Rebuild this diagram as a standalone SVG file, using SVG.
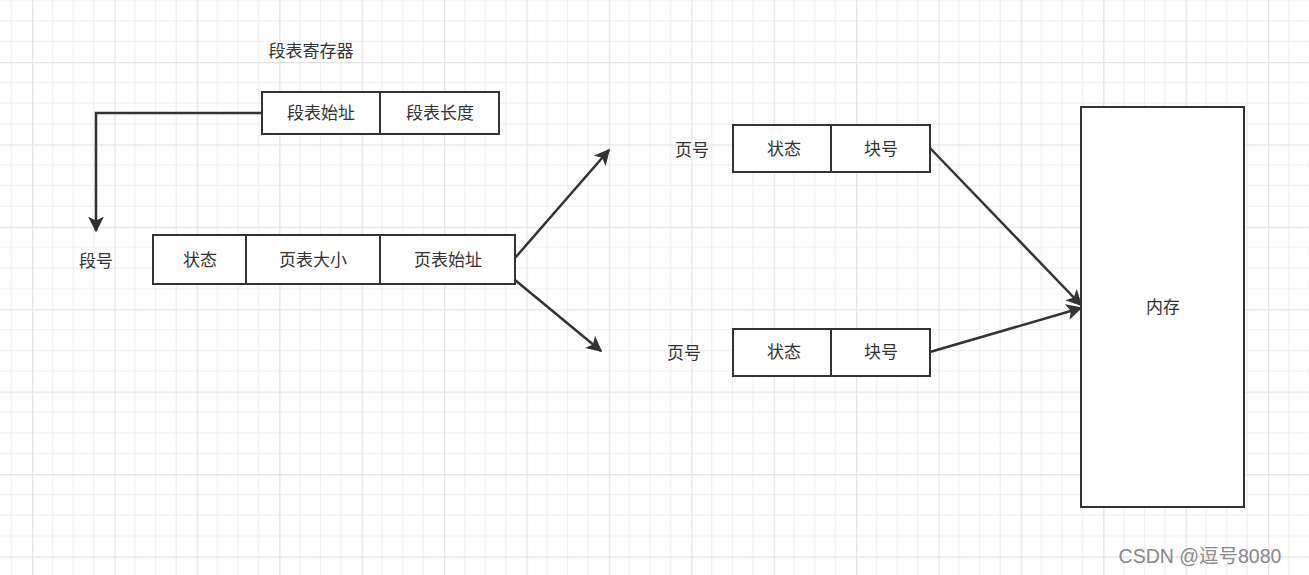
<svg xmlns="http://www.w3.org/2000/svg" width="1309" height="575" viewBox="0 0 1309 575">
<defs>
<pattern id="g" x="32" y="62" width="82.4" height="82.4" patternUnits="userSpaceOnUse">
<path d="M20.6 0V82.4M41.2 0V82.4M61.8 0V82.4M0 20.6H82.4M0 41.2H82.4M0 61.8H82.4" stroke="#efefef" stroke-width="1.2" fill="none"/>
<path d="M0.6 0V82.4M0 0.6H82.4" stroke="#e4e4e4" stroke-width="1.4" fill="none"/>
</pattern>
<marker id="b" viewBox="0 0 10 10" refX="9" refY="5" markerWidth="16" markerHeight="16" orient="auto" markerUnits="userSpaceOnUse">
<path d="M0 0L10 5L0 10L2.5 5Z" fill="#333"/>
</marker>
</defs>
<style>
.c{fill:#fff;stroke:#333;stroke-width:2}
text{font-family:"Liberation Sans","Noto Sans CJK SC",sans-serif;font-size:17px;fill:#333;text-anchor:middle;dominant-baseline:central}
.l{fill:none;stroke:#333;stroke-width:2.5}
</style>
<rect width="1309" height="575" fill="#fff"/>
<rect width="1309" height="575" fill="url(#g)"/>
<text x="311" y="51">段表寄存器</text>
<g id="reg"><rect class="c" x="262" y="92" width="118" height="42"/><text x="321" y="113">段表始址</text><rect class="c" x="380" y="92" width="119" height="42"/><text x="440" y="113">段表长度</text></g>
<text x="96" y="261">段号</text>
<g id="seg"><rect class="c" x="153" y="235" width="93" height="49"/><text x="200" y="260">状态</text><rect class="c" x="246" y="235" width="134" height="49"/><text x="313" y="260">页表大小</text><rect class="c" x="380" y="235" width="135" height="49"/><text x="448" y="260">页表始址</text></g>
<text x="692" y="150">页号</text>
<g id="p1"><rect class="c" x="733" y="125" width="98" height="47"/><text x="784" y="149">状态</text><rect class="c" x="831" y="125" width="99" height="47"/><text x="881" y="149">块号</text></g>
<text x="684" y="353">页号</text>
<g id="p2"><rect class="c" x="733" y="329" width="98" height="47"/><text x="784" y="352">状态</text><rect class="c" x="831" y="329" width="99" height="47"/><text x="881" y="352">块号</text></g>
<g id="mem"><rect class="c" x="1081" y="107" width="163" height="400"/><text x="1163" y="307">内存</text></g>
<g id="edges">
<path class="l" d="M262 113H96V231" marker-end="url(#b)"/>
<path class="l" d="M515 258L609 150" marker-end="url(#b)"/>
<path class="l" d="M515 280L601 351" marker-end="url(#b)"/>
<path class="l" d="M930 148L1081 305" marker-end="url(#b)"/>
<path class="l" d="M930 352L1081 308" marker-end="url(#b)"/>
</g>
<text x="1200" y="556" style="fill:#888;font-size:19.5px">CSDN @逗号8080</text>
</svg>
